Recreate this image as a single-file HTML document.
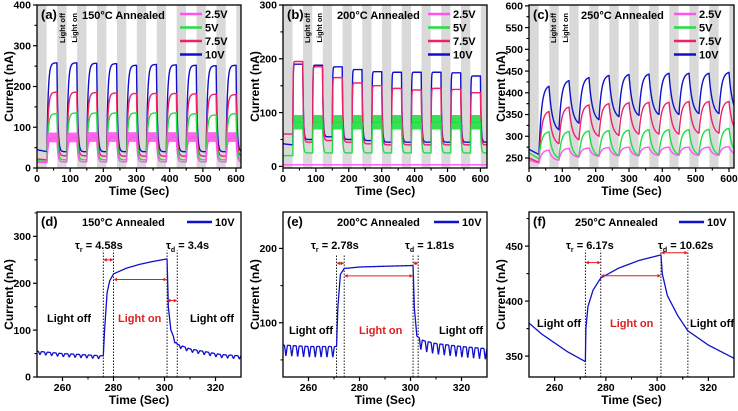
<!DOCTYPE html>
<html><head><meta charset="utf-8"><style>
html,body{margin:0;padding:0;background:#fff}
svg{display:block;font-family:"Liberation Sans",Arial,sans-serif}
</style></head><body>
<svg id="fig" width="738" height="411" viewBox="0 0 738 411" xmlns="http://www.w3.org/2000/svg"></svg>
<script>
// ===== Data: top panels (per on/off cycle, 10 cycles) =====
const voltages = ["2.5V","5V","7.5V","10V"];
const colors = {"2.5V":"#ff55ee","5V":"#22dd44","7.5V":"#ee2266","10V":"#1010cc"};
// panel (a) 150C
const a10peaks = [258,258,257,256,252,254,253,252,251,252];
const a10mins  = [40,40,40,40,40,40,40,40,40,40];
const a75peaks = [186,186,185,184,183,183,183,182,181,180];
const a75mins  = [30,30,29,29,29,29,29,29,29,29];
const a5peaks  = [133,135,135,135,135,135,135,133,130,133];
const a5mins   = [20,20,20,20,20,20,20,20,20,20];
const a25peaks = [75,75,76,76,76,76,76,76,76,76];
const a25mins  = [15,15,15,15,15,15,15,15,15,15];
const aStart = {"10V":[45,40],"7.5V":[22,20],"5V":[18,16],"2.5V":[14,13]};
// panel (b) 200C
const b10peaks = [190,188,185,180,176,175,175,175,174,168];
const b10mins  = [50,55,50,48,45,45,45,45,45,45];
const b75peaks = [195,185,165,155,150,145,142,145,143,137];
const b75mins  = [45,48,45,42,40,40,40,40,40,40];
const b5peaks  = [82,82,82,82,82,82,82,82,82,82];
const b5mins   = [25,25,25,25,25,25,25,25,25,25];
const b25peaks = [3,3,3,3,3,3,3,3,3,3];
const b25mins  = [3,3,3,3,3,3,3,3,3,3];
const bStart = {"10V":[42,40],"7.5V":[60,60],"5V":[20,20],"2.5V":[3,3]};
// panel (c) 250C
const c10peaks = [415,428,435,440,442,443,445,445,445,447];
const c10mins  = [315,330,338,345,348,350,350,352,352,355];
const c75peaks = [357,367,372,375,377,378,378,380,380,380];
const c75mins  = [283,292,300,302,305,305,305,307,307,310];
const c5peaks  = [310,311,312,313,314,315,315,315,316,318];
const c5mins   = [250,253,255,256,256,258,258,258,258,260];
const c25peaks = [268,272,273,274,275,275,275,275,275,276];
const c25mins  = [245,252,254,255,255,256,256,256,256,258];
const cStart = {"10V":[270,258],"7.5V":[250,240],"5V":[262,248],"2.5V":[245,238]};

// ===== Data: bottom panels (10V single cycle, time & current) =====
const dTimes  = [250,260,270,276,276.5,277.5,278.5,280,285,290,295,301,301.5,302.5,304,305,310,315,322,330];
const dValues = [55,50,47,45,100,180,205,220,232,240,246,252,150,100,80,70,60,55,48,45];
const eTimes  = [250,260,271,271.5,272.5,274,280,290,301,301.5,302.5,305,310,320,330];
const eValues = [70,68,68,120,165,173,175,176,177,120,82,76,72,68,65];
const fTimes  = [250,255,260,265,272,272.2,273,275,278,285,293,301.5,302,304,308,312,320,330];
const fValues = [380,370,362,354,345,375,395,410,421,430,437,442,425,405,387,373,360,348];
const xTicksTop = [0,100,200,300,400,500,600];
const xTicksBot = [260,280,300,320];

const NS="http://www.w3.org/2000/svg";
const svg=document.getElementById('fig');
function mk(tag,attrs,parent){const e=document.createElementNS(NS,tag);for(const k in attrs)e.setAttribute(k,attrs[k]);(parent||svg).appendChild(e);return e;}
function txt(s,x,y,size,opts,parent){opts=opts||{};const t=mk('text',{x:x,y:y,'font-size':size,'font-weight':'bold',fill:opts.fill||'#000','text-anchor':opts.anchor||'start'},parent);if(opts.rot)t.setAttribute('transform','rotate(-90 '+x+' '+y+')');t.textContent=s;return t;}

function makeAxes(p){
  const g=mk('g',{});
  
  
  p.sx=v=>p.x0+(v-p.xmin)/(p.xmax-p.xmin)*(p.x1-p.x0);
  p.sy=v=>p.y1-(v-p.ymin)/(p.ymax-p.ymin)*(p.y1-p.y0);
  const clipId='clip-'+p.name;
  const cp=mk('clipPath',{id:clipId},g);
  mk('rect',{x:p.x0,y:p.y0,width:p.x1-p.x0,height:p.y1-p.y0},cp);
  p.plot=mk('g',{'clip-path':'url(#'+clipId+')'},g);
  p.g=g;
  return p;
}
function finishAxes(p){
  const g=p.g;
  const fr=mk('rect',{x:p.x0,y:p.y0,width:p.x1-p.x0,height:p.y1-p.y0,fill:'none',stroke:'#000','stroke-width':1.3},g);
  
  const xa=mk('g',{},g);
  p.xticks.forEach((v,i)=>{const X=p.sx(v);mk('line',{x1:X,x2:X,y1:p.y1,y2:p.y1+4,stroke:'#000','stroke-width':1.2},xa);
    txt(String(v),X,p.y1+14,10.5,{anchor:'middle'},xa);
    const st=p.xticks.length>1?(p.xticks[1]-p.xticks[0])/2:0;
    [v-st,v+st].forEach(m=>{if(m>p.xmin&&m<p.xmax){const M=p.sx(m);mk('line',{x1:M,x2:M,y1:p.y1,y2:p.y1+2.5,stroke:'#000','stroke-width':1},xa);}});
  });
  const xt=txt('Time (Sec)',(p.x0+p.x1)/2,p.y1+27,12,{anchor:'middle'},g);
  
  const ya=mk('g',{},g);
  p.yticks.forEach(v=>{const Y=p.sy(v);mk('line',{x1:p.x0-4,x2:p.x0,y1:Y,y2:Y,stroke:'#000','stroke-width':1.2},ya);
    txt(String(v),p.x0-6,Y+3.7,10.5,{anchor:'end'},ya);
    const st=(p.yticks[1]-p.yticks[0])/2;
    [v-st,v+st].forEach(m=>{if(m>p.ymin&&m<p.ymax){const M=p.sy(m);mk('line',{x1:p.x0-2.5,x2:p.x0,y1:M,y2:M,stroke:'#000','stroke-width':1},ya);}});
  });
  const yt=txt('Current (nA)',p.x0-24,(p.y0+p.y1)/2,12,{anchor:'middle',rot:true},g);
  
  const pl=txt(p.label,p.x0+4,p.y0+14,13,{},g);
  const tl=txt(p.title,p.titleX,p.y0+14,11,{},g);
}

function cycleCurve(p,peaks,mins,start,kr,kd){
  const pts=[];
  const r=x=>(1-Math.exp(-x*kr))/(1-Math.exp(-kr));
  const d=x=>(Math.exp(-x*kd)-Math.exp(-kd))/(1-Math.exp(-kd));
  for(let t=0;t<=30;t+=1)pts.push([t,start[0]+(start[1]-start[0])*t/30]);
  let base=start[1];
  peaks.forEach((pk,k)=>{
    const t0=30+60*k, mn=mins[k];
    for(let i=0;i<=60;i++){const x=i/60;pts.push([t0+30*x,base+(pk-base)*r(x)]);}
    for(let i=1;i<=60;i++){const x=i/60;pts.push([t0+30+30*x,mn+(pk-mn)*d(x)]);}
    base=mn;
  });
  return pts;
}
function poly(p,pts,color,w,name){
  const s=pts.map(q=>p.sx(q[0]).toFixed(2)+','+p.sy(q[1]).toFixed(2)).join(' ');
  const e=mk('polyline',{points:s,fill:'none',stroke:color,'stroke-width':w,'stroke-linejoin':'round'},p.plot);
  
  return e;
}
function bandOn(p,peaks,bw,color,name){
  const g=mk('g',{},p.plot);
  peaks.forEach((pk,k)=>{
    const t0=30+60*k;
    const r=mk('rect',{x:p.sx(t0+2),y:p.sy(pk+bw/2),width:p.sx(t0+30)-p.sx(t0+2),height:p.sy(pk-bw/2)-p.sy(pk+bw/2),fill:color,opacity:0.9},g);
    
  });
}
function grayBands(p){
  const g=mk('g',{},p.plot);
  for(let t=0;t<630;t+=60){
    const r=mk('rect',{x:p.sx(t+1),y:p.y0,width:p.sx(t+29)-p.sx(t+1),height:p.y1-p.y0,fill:'#d9d9d9'},g);
    
  }
}
function legend(p,lx,items){
  const g=mk('g',{},p.g);
  items.forEach((v,i)=>{const y=p.y0+9+i*13.5;
    const e=mk('g',{},g);
    mk('line',{x1:lx,x2:lx+22,y1:y,y2:y,stroke:colors[v],'stroke-width':2.5},e);
    txt(v,lx+25,y+4,11,{},e);});
}
function lightLabels(p,x){
  const g=mk('g',{},p.g);
  txt('Light off',x,p.y0+8,7.5,{anchor:'end',rot:true},g);
  txt('Light on',x+12,p.y0+8,7.5,{anchor:'end',rot:true},g);
}

// ----- top panels -----
const tops=[
 {name:'panel-a',label:'(a)',title:'150°C Annealed',titleX:82,x0:37,x1:241,xmin:0,xmax:615,y0:5,y1:168,ymin:0,ymax:400,yticks:[0,100,200,300,400],kr:8,kd:10,
  series:{"10V":[a10peaks,a10mins],"7.5V":[a75peaks,a75mins],"5V":[a5peaks,a5mins],"2.5V":[a25peaks,a25mins]},start:aStart,band:["2.5V",24],legX:180,llX:65},
 {name:'panel-b',label:'(b)',title:'200°C Annealed',titleX:337,x0:283,x1:487,xmin:0,xmax:620,y0:5,y1:168,ymin:-3,ymax:300,yticks:[0,100,200,300],kr:40,kd:15,
  series:{"10V":[b10peaks,b10mins],"7.5V":[b75peaks,b75mins],"5V":[b5peaks,b5mins],"2.5V":[b25peaks,b25mins]},start:bStart,band:["5V",27],legX:428,llX:310},
 {name:'panel-c',label:'(c)',title:'250°C Annealed',titleX:581,x0:529,x1:734,xmin:0,xmax:615,y0:5,y1:168,ymin:227,ymax:602,yticks:[250,300,350,400,450,500,550,600],kr:4,kd:3,
  series:{"10V":[c10peaks,c10mins],"7.5V":[c75peaks,c75mins],"5V":[c5peaks,c5mins],"2.5V":[c25peaks,c25mins]},start:cStart,band:null,legX:674,llX:556}
];
tops.forEach(P=>{
  const p=makeAxes(Object.assign({xticks:xTicksTop},P));
  grayBands(p);
  ["10V","7.5V","5V","2.5V"].forEach(v=>{
    const s=P.series[v];
    poly(p,cycleCurve(p,s[0],s[1],P.start[v],P.kr,P.kd),colors[v],1.4,'series-'+v);
    if(P.band&&P.band[0]===v)bandOn(p,s[0],P.band[1],colors[v],'series-'+v+'-noise-band');
  });
  finishAxes(p);
  legend(p,P.legX,voltages);
  lightLabels(p,P.llX);
});

// ----- bottom panels -----
const bots=[
 {name:'panel-d',label:'(d)',title:'150°C Annealed',titleX:82,x0:37,x1:241,ymin:0,ymax:352,yticks:[0,100,200,300],times:dTimes,vals:dValues,ripple:7,
  dots:[276,280,301,305],arrows:[[276,280,250],[280,301,208],[301,305,163]],topV:270,
  tr:['4.58s',75],td:['3.4s',166],lbl:[[47,322],[118,322],[190,322]],legX:187},
 {name:'panel-e',label:'(e)',title:'200°C Annealed',titleX:337,x0:283,x1:487,ymin:27,ymax:249,yticks:[100,200],times:eTimes,vals:eValues,ripple:15,
  dots:[271,274,301,303],arrows:[[271,274,180],[274,301,163],[301,303,180]],topV:192,
  tr:['2.78s',311],td:['1.81s',405],lbl:[[289,334],[359,334],[439,334]],legX:434},
 {name:'panel-f',label:'(f)',title:'250°C Annealed',titleX:575,x0:529,x1:734,ymin:331,ymax:481,yticks:[350,400,450],times:fTimes,vals:fValues,ripple:0,
  dots:[272,278,301.5,312],arrows:[[272,278,435],[278,301.5,423],[301.5,312,444]],topV:446,
  tr:['6.17s',566],td:['10.62s',658],lbl:[[537,327],[610,327],[690,327]],legX:679}
];
function interp(ts,vs,t){for(let i=1;i<ts.length;i++){if(t<=ts[i]){const f=(t-ts[i-1])/(ts[i]-ts[i-1]);return vs[i-1]+f*(vs[i]-vs[i-1]);}}return vs[vs.length-1];}
bots.forEach(P=>{
  const p=makeAxes(Object.assign({xticks:xTicksBot,xmin:250,xmax:330,y0:212,y1:377},P));
  // dotted markers
  const dg=mk('g',{},p.plot);
  P.dots.forEach(t=>{const l=mk('line',{x1:p.sx(t),x2:p.sx(t),y1:p.y1,y2:p.sy(P.topV),stroke:'#000','stroke-width':0.9,'stroke-dasharray':'1.5,1.5'},dg);
    });
  // curve with ripples in off regions
  const pts=[];const tOn=P.dots[0],tOff=P.dots[2];
  for(let t=250;t<=330;t+=0.1){
    let v=interp(P.times,P.vals,t);
    if(P.ripple&&(t<tOn-0.3||t>tOff+1.5)){const ph=((t-250)%2.3)/2.3;v-=P.ripple*Math.pow(Math.max(0,1-Math.abs(ph-0.5)*4),1);}
    pts.push([t,v]);}
  P.times.forEach((t,i)=>pts.push(null));
  poly(p,pts.filter(q=>q),colors["10V"],1.3,'series-10V');
  // arrows
  const ag=mk('g',{},p.g);
  P.arrows.forEach(a=>{const X1=p.sx(a[0]),X2=p.sx(a[1]),Y=p.sy(a[2]);
    const e=mk('g',{},ag);
    mk('line',{x1:X1+1,x2:X2-1,y1:Y,y2:Y,stroke:'#e02020','stroke-width':1},e);
    mk('polygon',{points:`${X1},${Y} ${X1+3.5},${Y-1.8} ${X1+3.5},${Y+1.8}`,fill:'#e02020'},e);
    mk('polygon',{points:`${X2},${Y} ${X2-3.5},${Y-1.8} ${X2-3.5},${Y+1.8}`,fill:'#e02020'},e);});
  finishAxes(p);
  // tau labels
  const t1=mk('text',{x:P.tr[1],y:p.y0+37,'font-size':11,'font-weight':'bold'},p.g);
  
  t1.innerHTML='τ<tspan font-size="7" dy="3">r</tspan><tspan dy="-3"> = '+P.tr[0]+'</tspan>';
  const t2=mk('text',{x:P.td[1],y:p.y0+37,'font-size':11,'font-weight':'bold'},p.g);
  
  t2.innerHTML='τ<tspan font-size="7" dy="3">d</tspan><tspan dy="-3"> = '+P.td[0]+'</tspan>';
  const l1=txt('Light off',P.lbl[0][0],P.lbl[0][1],11,{},p.g);
  const l2=txt('Light on',P.lbl[1][0],P.lbl[1][1],11,{fill:'#e02020'},p.g);
  const l3=txt('Light off',P.lbl[2][0],P.lbl[2][1],11,{},p.g);
  const lg=mk('g',{},p.g);
  mk('line',{x1:P.legX,x2:P.legX+25,y1:p.y0+10,y2:p.y0+10,stroke:colors["10V"],'stroke-width':2.5},lg);
  txt('10V',P.legX+28,p.y0+14,11,{},lg);
});
</script>
</body></html>
